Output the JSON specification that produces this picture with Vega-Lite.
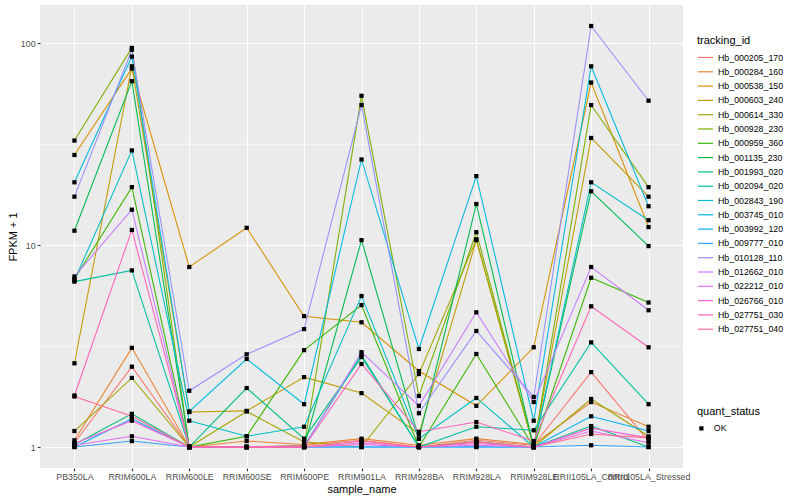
{
"$schema": "https://vega.github.io/schema/vega-lite/v6.json",
"width": 643, "height": 463,
"autosize": {"type": "none"},
"padding": {"left": 40, "top": 5, "right": 117, "bottom": 32},
"background": "white",
"config": {
  "font": "Liberation Sans",
  "view": {"fill": "#EBEBEB", "stroke": null},
  "axis": {"domain": false, "grid": true, "gridColor": "white", "gridWidth": 1.1, "tickColor": "#333333", "tickSize": 2.75, "tickWidth": 1.1, "labelColor": "#4D4D4D", "labelFontSize": 8.8, "labelPadding": 2.2, "titleFontSize": 11, "titleFontWeight": "normal", "titleColor": "black"},
  "legend": {"titleFontSize": 11, "titleFontWeight": "normal", "titleColor": "black", "labelFontSize": 8.8, "labelColor": "black", "padding": 0}
},
"data": {"values": [
{"tracking_id":"Hb_000205_170","sample_name":"PB350LA","FPKM_plus_1":1.05,"quant_status":"OK"},
{"tracking_id":"Hb_000205_170","sample_name":"RRIM600LA","FPKM_plus_1":2.5,"quant_status":"OK"},
{"tracking_id":"Hb_000205_170","sample_name":"RRIM600LE","FPKM_plus_1":1.0,"quant_status":"OK"},
{"tracking_id":"Hb_000205_170","sample_name":"RRIM600SE","FPKM_plus_1":1.0,"quant_status":"OK"},
{"tracking_id":"Hb_000205_170","sample_name":"RRIM600PE","FPKM_plus_1":1.02,"quant_status":"OK"},
{"tracking_id":"Hb_000205_170","sample_name":"RRIM901LA","FPKM_plus_1":1.08,"quant_status":"OK"},
{"tracking_id":"Hb_000205_170","sample_name":"RRIM928BA","FPKM_plus_1":1.0,"quant_status":"OK"},
{"tracking_id":"Hb_000205_170","sample_name":"RRIM928LA","FPKM_plus_1":1.08,"quant_status":"OK"},
{"tracking_id":"Hb_000205_170","sample_name":"RRIM928LE","FPKM_plus_1":1.02,"quant_status":"OK"},
{"tracking_id":"Hb_000205_170","sample_name":"RRII105LA_Control","FPKM_plus_1":2.35,"quant_status":"OK"},
{"tracking_id":"Hb_000205_170","sample_name":"RRII105LA_Stressed","FPKM_plus_1":1.07,"quant_status":"OK"},
{"tracking_id":"Hb_000284_160","sample_name":"PB350LA","FPKM_plus_1":1.08,"quant_status":"OK"},
{"tracking_id":"Hb_000284_160","sample_name":"RRIM600LA","FPKM_plus_1":3.1,"quant_status":"OK"},
{"tracking_id":"Hb_000284_160","sample_name":"RRIM600LE","FPKM_plus_1":1.0,"quant_status":"OK"},
{"tracking_id":"Hb_000284_160","sample_name":"RRIM600SE","FPKM_plus_1":1.07,"quant_status":"OK"},
{"tracking_id":"Hb_000284_160","sample_name":"RRIM600PE","FPKM_plus_1":1.03,"quant_status":"OK"},
{"tracking_id":"Hb_000284_160","sample_name":"RRIM901LA","FPKM_plus_1":1.1,"quant_status":"OK"},
{"tracking_id":"Hb_000284_160","sample_name":"RRIM928BA","FPKM_plus_1":1.02,"quant_status":"OK"},
{"tracking_id":"Hb_000284_160","sample_name":"RRIM928LA","FPKM_plus_1":1.1,"quant_status":"OK"},
{"tracking_id":"Hb_000284_160","sample_name":"RRIM928LE","FPKM_plus_1":1.03,"quant_status":"OK"},
{"tracking_id":"Hb_000284_160","sample_name":"RRII105LA_Control","FPKM_plus_1":1.67,"quant_status":"OK"},
{"tracking_id":"Hb_000284_160","sample_name":"RRII105LA_Stressed","FPKM_plus_1":1.26,"quant_status":"OK"},
{"tracking_id":"Hb_000538_150","sample_name":"PB350LA","FPKM_plus_1":28,"quant_status":"OK"},
{"tracking_id":"Hb_000538_150","sample_name":"RRIM600LA","FPKM_plus_1":75,"quant_status":"OK"},
{"tracking_id":"Hb_000538_150","sample_name":"RRIM600LE","FPKM_plus_1":7.8,"quant_status":"OK"},
{"tracking_id":"Hb_000538_150","sample_name":"RRIM600SE","FPKM_plus_1":12.2,"quant_status":"OK"},
{"tracking_id":"Hb_000538_150","sample_name":"RRIM600PE","FPKM_plus_1":4.45,"quant_status":"OK"},
{"tracking_id":"Hb_000538_150","sample_name":"RRIM901LA","FPKM_plus_1":4.15,"quant_status":"OK"},
{"tracking_id":"Hb_000538_150","sample_name":"RRIM928BA","FPKM_plus_1":2.38,"quant_status":"OK"},
{"tracking_id":"Hb_000538_150","sample_name":"RRIM928LA","FPKM_plus_1":1.6,"quant_status":"OK"},
{"tracking_id":"Hb_000538_150","sample_name":"RRIM928LE","FPKM_plus_1":3.12,"quant_status":"OK"},
{"tracking_id":"Hb_000538_150","sample_name":"RRII105LA_Control","FPKM_plus_1":64,"quant_status":"OK"},
{"tracking_id":"Hb_000538_150","sample_name":"RRII105LA_Stressed","FPKM_plus_1":12.3,"quant_status":"OK"},
{"tracking_id":"Hb_000603_240","sample_name":"PB350LA","FPKM_plus_1":2.6,"quant_status":"OK"},
{"tracking_id":"Hb_000603_240","sample_name":"RRIM600LA","FPKM_plus_1":77,"quant_status":"OK"},
{"tracking_id":"Hb_000603_240","sample_name":"RRIM600LE","FPKM_plus_1":1.49,"quant_status":"OK"},
{"tracking_id":"Hb_000603_240","sample_name":"RRIM600SE","FPKM_plus_1":1.51,"quant_status":"OK"},
{"tracking_id":"Hb_000603_240","sample_name":"RRIM600PE","FPKM_plus_1":2.22,"quant_status":"OK"},
{"tracking_id":"Hb_000603_240","sample_name":"RRIM901LA","FPKM_plus_1":1.85,"quant_status":"OK"},
{"tracking_id":"Hb_000603_240","sample_name":"RRIM928BA","FPKM_plus_1":1.16,"quant_status":"OK"},
{"tracking_id":"Hb_000603_240","sample_name":"RRIM928LA","FPKM_plus_1":10.6,"quant_status":"OK"},
{"tracking_id":"Hb_000603_240","sample_name":"RRIM928LE","FPKM_plus_1":1.0,"quant_status":"OK"},
{"tracking_id":"Hb_000603_240","sample_name":"RRII105LA_Control","FPKM_plus_1":34,"quant_status":"OK"},
{"tracking_id":"Hb_000603_240","sample_name":"RRII105LA_Stressed","FPKM_plus_1":17.4,"quant_status":"OK"},
{"tracking_id":"Hb_000614_330","sample_name":"PB350LA","FPKM_plus_1":1.2,"quant_status":"OK"},
{"tracking_id":"Hb_000614_330","sample_name":"RRIM600LA","FPKM_plus_1":2.2,"quant_status":"OK"},
{"tracking_id":"Hb_000614_330","sample_name":"RRIM600LE","FPKM_plus_1":1.0,"quant_status":"OK"},
{"tracking_id":"Hb_000614_330","sample_name":"RRIM600SE","FPKM_plus_1":1.5,"quant_status":"OK"},
{"tracking_id":"Hb_000614_330","sample_name":"RRIM600PE","FPKM_plus_1":1.06,"quant_status":"OK"},
{"tracking_id":"Hb_000614_330","sample_name":"RRIM901LA","FPKM_plus_1":1.0,"quant_status":"OK"},
{"tracking_id":"Hb_000614_330","sample_name":"RRIM928BA","FPKM_plus_1":2.3,"quant_status":"OK"},
{"tracking_id":"Hb_000614_330","sample_name":"RRIM928LA","FPKM_plus_1":10.7,"quant_status":"OK"},
{"tracking_id":"Hb_000614_330","sample_name":"RRIM928LE","FPKM_plus_1":1.0,"quant_status":"OK"},
{"tracking_id":"Hb_000614_330","sample_name":"RRII105LA_Control","FPKM_plus_1":1.73,"quant_status":"OK"},
{"tracking_id":"Hb_000614_330","sample_name":"RRII105LA_Stressed","FPKM_plus_1":1.13,"quant_status":"OK"},
{"tracking_id":"Hb_000928_230","sample_name":"PB350LA","FPKM_plus_1":33,"quant_status":"OK"},
{"tracking_id":"Hb_000928_230","sample_name":"RRIM600LA","FPKM_plus_1":95,"quant_status":"OK"},
{"tracking_id":"Hb_000928_230","sample_name":"RRIM600LE","FPKM_plus_1":1.0,"quant_status":"OK"},
{"tracking_id":"Hb_000928_230","sample_name":"RRIM600SE","FPKM_plus_1":1.0,"quant_status":"OK"},
{"tracking_id":"Hb_000928_230","sample_name":"RRIM600PE","FPKM_plus_1":1.0,"quant_status":"OK"},
{"tracking_id":"Hb_000928_230","sample_name":"RRIM901LA","FPKM_plus_1":55,"quant_status":"OK"},
{"tracking_id":"Hb_000928_230","sample_name":"RRIM928BA","FPKM_plus_1":1.79,"quant_status":"OK"},
{"tracking_id":"Hb_000928_230","sample_name":"RRIM928LA","FPKM_plus_1":11.6,"quant_status":"OK"},
{"tracking_id":"Hb_000928_230","sample_name":"RRIM928LE","FPKM_plus_1":1.0,"quant_status":"OK"},
{"tracking_id":"Hb_000928_230","sample_name":"RRII105LA_Control","FPKM_plus_1":49.5,"quant_status":"OK"},
{"tracking_id":"Hb_000928_230","sample_name":"RRII105LA_Stressed","FPKM_plus_1":19.4,"quant_status":"OK"},
{"tracking_id":"Hb_000959_360","sample_name":"PB350LA","FPKM_plus_1":6.8,"quant_status":"OK"},
{"tracking_id":"Hb_000959_360","sample_name":"RRIM600LA","FPKM_plus_1":19.4,"quant_status":"OK"},
{"tracking_id":"Hb_000959_360","sample_name":"RRIM600LE","FPKM_plus_1":1.0,"quant_status":"OK"},
{"tracking_id":"Hb_000959_360","sample_name":"RRIM600SE","FPKM_plus_1":1.13,"quant_status":"OK"},
{"tracking_id":"Hb_000959_360","sample_name":"RRIM600PE","FPKM_plus_1":3.02,"quant_status":"OK"},
{"tracking_id":"Hb_000959_360","sample_name":"RRIM901LA","FPKM_plus_1":5.05,"quant_status":"OK"},
{"tracking_id":"Hb_000959_360","sample_name":"RRIM928BA","FPKM_plus_1":1.0,"quant_status":"OK"},
{"tracking_id":"Hb_000959_360","sample_name":"RRIM928LA","FPKM_plus_1":2.89,"quant_status":"OK"},
{"tracking_id":"Hb_000959_360","sample_name":"RRIM928LE","FPKM_plus_1":1.0,"quant_status":"OK"},
{"tracking_id":"Hb_000959_360","sample_name":"RRII105LA_Control","FPKM_plus_1":6.9,"quant_status":"OK"},
{"tracking_id":"Hb_000959_360","sample_name":"RRII105LA_Stressed","FPKM_plus_1":5.2,"quant_status":"OK"},
{"tracking_id":"Hb_001135_230","sample_name":"PB350LA","FPKM_plus_1":11.8,"quant_status":"OK"},
{"tracking_id":"Hb_001135_230","sample_name":"RRIM600LA","FPKM_plus_1":65,"quant_status":"OK"},
{"tracking_id":"Hb_001135_230","sample_name":"RRIM600LE","FPKM_plus_1":1.0,"quant_status":"OK"},
{"tracking_id":"Hb_001135_230","sample_name":"RRIM600SE","FPKM_plus_1":1.0,"quant_status":"OK"},
{"tracking_id":"Hb_001135_230","sample_name":"RRIM600PE","FPKM_plus_1":1.0,"quant_status":"OK"},
{"tracking_id":"Hb_001135_230","sample_name":"RRIM901LA","FPKM_plus_1":10.6,"quant_status":"OK"},
{"tracking_id":"Hb_001135_230","sample_name":"RRIM928BA","FPKM_plus_1":1.1,"quant_status":"OK"},
{"tracking_id":"Hb_001135_230","sample_name":"RRIM928LA","FPKM_plus_1":16,"quant_status":"OK"},
{"tracking_id":"Hb_001135_230","sample_name":"RRIM928LE","FPKM_plus_1":1.0,"quant_status":"OK"},
{"tracking_id":"Hb_001135_230","sample_name":"RRII105LA_Control","FPKM_plus_1":18.5,"quant_status":"OK"},
{"tracking_id":"Hb_001135_230","sample_name":"RRII105LA_Stressed","FPKM_plus_1":9.9,"quant_status":"OK"},
{"tracking_id":"Hb_001993_020","sample_name":"PB350LA","FPKM_plus_1":1.03,"quant_status":"OK"},
{"tracking_id":"Hb_001993_020","sample_name":"RRIM600LA","FPKM_plus_1":1.46,"quant_status":"OK"},
{"tracking_id":"Hb_001993_020","sample_name":"RRIM600LE","FPKM_plus_1":1.0,"quant_status":"OK"},
{"tracking_id":"Hb_001993_020","sample_name":"RRIM600SE","FPKM_plus_1":1.96,"quant_status":"OK"},
{"tracking_id":"Hb_001993_020","sample_name":"RRIM600PE","FPKM_plus_1":1.1,"quant_status":"OK"},
{"tracking_id":"Hb_001993_020","sample_name":"RRIM901LA","FPKM_plus_1":2.79,"quant_status":"OK"},
{"tracking_id":"Hb_001993_020","sample_name":"RRIM928BA","FPKM_plus_1":1.0,"quant_status":"OK"},
{"tracking_id":"Hb_001993_020","sample_name":"RRIM928LA","FPKM_plus_1":1.06,"quant_status":"OK"},
{"tracking_id":"Hb_001993_020","sample_name":"RRIM928LE","FPKM_plus_1":1.0,"quant_status":"OK"},
{"tracking_id":"Hb_001993_020","sample_name":"RRII105LA_Control","FPKM_plus_1":1.27,"quant_status":"OK"},
{"tracking_id":"Hb_001993_020","sample_name":"RRII105LA_Stressed","FPKM_plus_1":1.0,"quant_status":"OK"},
{"tracking_id":"Hb_002094_020","sample_name":"PB350LA","FPKM_plus_1":6.6,"quant_status":"OK"},
{"tracking_id":"Hb_002094_020","sample_name":"RRIM600LA","FPKM_plus_1":7.5,"quant_status":"OK"},
{"tracking_id":"Hb_002094_020","sample_name":"RRIM600LE","FPKM_plus_1":1.0,"quant_status":"OK"},
{"tracking_id":"Hb_002094_020","sample_name":"RRIM600SE","FPKM_plus_1":1.0,"quant_status":"OK"},
{"tracking_id":"Hb_002094_020","sample_name":"RRIM600PE","FPKM_plus_1":1.01,"quant_status":"OK"},
{"tracking_id":"Hb_002094_020","sample_name":"RRIM901LA","FPKM_plus_1":2.86,"quant_status":"OK"},
{"tracking_id":"Hb_002094_020","sample_name":"RRIM928BA","FPKM_plus_1":1.0,"quant_status":"OK"},
{"tracking_id":"Hb_002094_020","sample_name":"RRIM928LA","FPKM_plus_1":1.26,"quant_status":"OK"},
{"tracking_id":"Hb_002094_020","sample_name":"RRIM928LE","FPKM_plus_1":1.21,"quant_status":"OK"},
{"tracking_id":"Hb_002094_020","sample_name":"RRII105LA_Control","FPKM_plus_1":3.3,"quant_status":"OK"},
{"tracking_id":"Hb_002094_020","sample_name":"RRII105LA_Stressed","FPKM_plus_1":1.63,"quant_status":"OK"},
{"tracking_id":"Hb_002843_190","sample_name":"PB350LA","FPKM_plus_1":6.7,"quant_status":"OK"},
{"tracking_id":"Hb_002843_190","sample_name":"RRIM600LA","FPKM_plus_1":29.5,"quant_status":"OK"},
{"tracking_id":"Hb_002843_190","sample_name":"RRIM600LE","FPKM_plus_1":1.35,"quant_status":"OK"},
{"tracking_id":"Hb_002843_190","sample_name":"RRIM600SE","FPKM_plus_1":1.13,"quant_status":"OK"},
{"tracking_id":"Hb_002843_190","sample_name":"RRIM600PE","FPKM_plus_1":1.26,"quant_status":"OK"},
{"tracking_id":"Hb_002843_190","sample_name":"RRIM901LA","FPKM_plus_1":5.6,"quant_status":"OK"},
{"tracking_id":"Hb_002843_190","sample_name":"RRIM928BA","FPKM_plus_1":1.1,"quant_status":"OK"},
{"tracking_id":"Hb_002843_190","sample_name":"RRIM928LA","FPKM_plus_1":1.75,"quant_status":"OK"},
{"tracking_id":"Hb_002843_190","sample_name":"RRIM928LE","FPKM_plus_1":1.0,"quant_status":"OK"},
{"tracking_id":"Hb_002843_190","sample_name":"RRII105LA_Control","FPKM_plus_1":20.5,"quant_status":"OK"},
{"tracking_id":"Hb_002843_190","sample_name":"RRII105LA_Stressed","FPKM_plus_1":13.3,"quant_status":"OK"},
{"tracking_id":"Hb_003745_010","sample_name":"PB350LA","FPKM_plus_1":20.5,"quant_status":"OK"},
{"tracking_id":"Hb_003745_010","sample_name":"RRIM600LA","FPKM_plus_1":86,"quant_status":"OK"},
{"tracking_id":"Hb_003745_010","sample_name":"RRIM600LE","FPKM_plus_1":1.5,"quant_status":"OK"},
{"tracking_id":"Hb_003745_010","sample_name":"RRIM600SE","FPKM_plus_1":2.73,"quant_status":"OK"},
{"tracking_id":"Hb_003745_010","sample_name":"RRIM600PE","FPKM_plus_1":1.63,"quant_status":"OK"},
{"tracking_id":"Hb_003745_010","sample_name":"RRIM901LA","FPKM_plus_1":26.6,"quant_status":"OK"},
{"tracking_id":"Hb_003745_010","sample_name":"RRIM928BA","FPKM_plus_1":3.06,"quant_status":"OK"},
{"tracking_id":"Hb_003745_010","sample_name":"RRIM928LA","FPKM_plus_1":22,"quant_status":"OK"},
{"tracking_id":"Hb_003745_010","sample_name":"RRIM928LE","FPKM_plus_1":1.35,"quant_status":"OK"},
{"tracking_id":"Hb_003745_010","sample_name":"RRII105LA_Control","FPKM_plus_1":77,"quant_status":"OK"},
{"tracking_id":"Hb_003745_010","sample_name":"RRII105LA_Stressed","FPKM_plus_1":15.6,"quant_status":"OK"},
{"tracking_id":"Hb_003992_120","sample_name":"PB350LA","FPKM_plus_1":1.0,"quant_status":"OK"},
{"tracking_id":"Hb_003992_120","sample_name":"RRIM600LA","FPKM_plus_1":1.38,"quant_status":"OK"},
{"tracking_id":"Hb_003992_120","sample_name":"RRIM600LE","FPKM_plus_1":1.0,"quant_status":"OK"},
{"tracking_id":"Hb_003992_120","sample_name":"RRIM600SE","FPKM_plus_1":1.0,"quant_status":"OK"},
{"tracking_id":"Hb_003992_120","sample_name":"RRIM600PE","FPKM_plus_1":1.0,"quant_status":"OK"},
{"tracking_id":"Hb_003992_120","sample_name":"RRIM901LA","FPKM_plus_1":1.0,"quant_status":"OK"},
{"tracking_id":"Hb_003992_120","sample_name":"RRIM928BA","FPKM_plus_1":1.0,"quant_status":"OK"},
{"tracking_id":"Hb_003992_120","sample_name":"RRIM928LA","FPKM_plus_1":1.0,"quant_status":"OK"},
{"tracking_id":"Hb_003992_120","sample_name":"RRIM928LE","FPKM_plus_1":1.0,"quant_status":"OK"},
{"tracking_id":"Hb_003992_120","sample_name":"RRII105LA_Control","FPKM_plus_1":1.42,"quant_status":"OK"},
{"tracking_id":"Hb_003992_120","sample_name":"RRII105LA_Stressed","FPKM_plus_1":1.2,"quant_status":"OK"},
{"tracking_id":"Hb_009777_010","sample_name":"PB350LA","FPKM_plus_1":1.0,"quant_status":"OK"},
{"tracking_id":"Hb_009777_010","sample_name":"RRIM600LA","FPKM_plus_1":1.07,"quant_status":"OK"},
{"tracking_id":"Hb_009777_010","sample_name":"RRIM600LE","FPKM_plus_1":1.0,"quant_status":"OK"},
{"tracking_id":"Hb_009777_010","sample_name":"RRIM600SE","FPKM_plus_1":1.0,"quant_status":"OK"},
{"tracking_id":"Hb_009777_010","sample_name":"RRIM600PE","FPKM_plus_1":1.0,"quant_status":"OK"},
{"tracking_id":"Hb_009777_010","sample_name":"RRIM901LA","FPKM_plus_1":1.0,"quant_status":"OK"},
{"tracking_id":"Hb_009777_010","sample_name":"RRIM928BA","FPKM_plus_1":1.0,"quant_status":"OK"},
{"tracking_id":"Hb_009777_010","sample_name":"RRIM928LA","FPKM_plus_1":1.0,"quant_status":"OK"},
{"tracking_id":"Hb_009777_010","sample_name":"RRIM928LE","FPKM_plus_1":1.0,"quant_status":"OK"},
{"tracking_id":"Hb_009777_010","sample_name":"RRII105LA_Control","FPKM_plus_1":1.02,"quant_status":"OK"},
{"tracking_id":"Hb_009777_010","sample_name":"RRII105LA_Stressed","FPKM_plus_1":1.0,"quant_status":"OK"},
{"tracking_id":"Hb_010128_110","sample_name":"PB350LA","FPKM_plus_1":17.4,"quant_status":"OK"},
{"tracking_id":"Hb_010128_110","sample_name":"RRIM600LA","FPKM_plus_1":93,"quant_status":"OK"},
{"tracking_id":"Hb_010128_110","sample_name":"RRIM600LE","FPKM_plus_1":1.9,"quant_status":"OK"},
{"tracking_id":"Hb_010128_110","sample_name":"RRIM600SE","FPKM_plus_1":2.88,"quant_status":"OK"},
{"tracking_id":"Hb_010128_110","sample_name":"RRIM600PE","FPKM_plus_1":3.84,"quant_status":"OK"},
{"tracking_id":"Hb_010128_110","sample_name":"RRIM901LA","FPKM_plus_1":49.5,"quant_status":"OK"},
{"tracking_id":"Hb_010128_110","sample_name":"RRIM928BA","FPKM_plus_1":1.47,"quant_status":"OK"},
{"tracking_id":"Hb_010128_110","sample_name":"RRIM928LA","FPKM_plus_1":3.76,"quant_status":"OK"},
{"tracking_id":"Hb_010128_110","sample_name":"RRIM928LE","FPKM_plus_1":1.77,"quant_status":"OK"},
{"tracking_id":"Hb_010128_110","sample_name":"RRII105LA_Control","FPKM_plus_1":122,"quant_status":"OK"},
{"tracking_id":"Hb_010128_110","sample_name":"RRII105LA_Stressed","FPKM_plus_1":52,"quant_status":"OK"},
{"tracking_id":"Hb_012662_010","sample_name":"PB350LA","FPKM_plus_1":7.0,"quant_status":"OK"},
{"tracking_id":"Hb_012662_010","sample_name":"RRIM600LA","FPKM_plus_1":15,"quant_status":"OK"},
{"tracking_id":"Hb_012662_010","sample_name":"RRIM600LE","FPKM_plus_1":1.0,"quant_status":"OK"},
{"tracking_id":"Hb_012662_010","sample_name":"RRIM600SE","FPKM_plus_1":1.0,"quant_status":"OK"},
{"tracking_id":"Hb_012662_010","sample_name":"RRIM600PE","FPKM_plus_1":1.0,"quant_status":"OK"},
{"tracking_id":"Hb_012662_010","sample_name":"RRIM901LA","FPKM_plus_1":2.95,"quant_status":"OK"},
{"tracking_id":"Hb_012662_010","sample_name":"RRIM928BA","FPKM_plus_1":1.6,"quant_status":"OK"},
{"tracking_id":"Hb_012662_010","sample_name":"RRIM928LA","FPKM_plus_1":4.65,"quant_status":"OK"},
{"tracking_id":"Hb_012662_010","sample_name":"RRIM928LE","FPKM_plus_1":1.67,"quant_status":"OK"},
{"tracking_id":"Hb_012662_010","sample_name":"RRII105LA_Control","FPKM_plus_1":7.8,"quant_status":"OK"},
{"tracking_id":"Hb_012662_010","sample_name":"RRII105LA_Stressed","FPKM_plus_1":4.76,"quant_status":"OK"},
{"tracking_id":"Hb_022212_010","sample_name":"PB350LA","FPKM_plus_1":1.02,"quant_status":"OK"},
{"tracking_id":"Hb_022212_010","sample_name":"RRIM600LA","FPKM_plus_1":1.13,"quant_status":"OK"},
{"tracking_id":"Hb_022212_010","sample_name":"RRIM600LE","FPKM_plus_1":1.0,"quant_status":"OK"},
{"tracking_id":"Hb_022212_010","sample_name":"RRIM600SE","FPKM_plus_1":1.0,"quant_status":"OK"},
{"tracking_id":"Hb_022212_010","sample_name":"RRIM600PE","FPKM_plus_1":1.0,"quant_status":"OK"},
{"tracking_id":"Hb_022212_010","sample_name":"RRIM901LA","FPKM_plus_1":1.05,"quant_status":"OK"},
{"tracking_id":"Hb_022212_010","sample_name":"RRIM928BA","FPKM_plus_1":1.0,"quant_status":"OK"},
{"tracking_id":"Hb_022212_010","sample_name":"RRIM928LA","FPKM_plus_1":1.02,"quant_status":"OK"},
{"tracking_id":"Hb_022212_010","sample_name":"RRIM928LE","FPKM_plus_1":1.0,"quant_status":"OK"},
{"tracking_id":"Hb_022212_010","sample_name":"RRII105LA_Control","FPKM_plus_1":1.2,"quant_status":"OK"},
{"tracking_id":"Hb_022212_010","sample_name":"RRII105LA_Stressed","FPKM_plus_1":1.05,"quant_status":"OK"},
{"tracking_id":"Hb_026766_010","sample_name":"PB350LA","FPKM_plus_1":1.04,"quant_status":"OK"},
{"tracking_id":"Hb_026766_010","sample_name":"RRIM600LA","FPKM_plus_1":1.35,"quant_status":"OK"},
{"tracking_id":"Hb_026766_010","sample_name":"RRIM600LE","FPKM_plus_1":1.0,"quant_status":"OK"},
{"tracking_id":"Hb_026766_010","sample_name":"RRIM600SE","FPKM_plus_1":1.0,"quant_status":"OK"},
{"tracking_id":"Hb_026766_010","sample_name":"RRIM600PE","FPKM_plus_1":1.0,"quant_status":"OK"},
{"tracking_id":"Hb_026766_010","sample_name":"RRIM901LA","FPKM_plus_1":1.03,"quant_status":"OK"},
{"tracking_id":"Hb_026766_010","sample_name":"RRIM928BA","FPKM_plus_1":1.0,"quant_status":"OK"},
{"tracking_id":"Hb_026766_010","sample_name":"RRIM928LA","FPKM_plus_1":1.04,"quant_status":"OK"},
{"tracking_id":"Hb_026766_010","sample_name":"RRIM928LE","FPKM_plus_1":1.0,"quant_status":"OK"},
{"tracking_id":"Hb_026766_010","sample_name":"RRII105LA_Control","FPKM_plus_1":1.24,"quant_status":"OK"},
{"tracking_id":"Hb_026766_010","sample_name":"RRII105LA_Stressed","FPKM_plus_1":1.11,"quant_status":"OK"},
{"tracking_id":"Hb_027751_030","sample_name":"PB350LA","FPKM_plus_1":1.8,"quant_status":"OK"},
{"tracking_id":"Hb_027751_030","sample_name":"RRIM600LA","FPKM_plus_1":11.9,"quant_status":"OK"},
{"tracking_id":"Hb_027751_030","sample_name":"RRIM600LE","FPKM_plus_1":1.0,"quant_status":"OK"},
{"tracking_id":"Hb_027751_030","sample_name":"RRIM600SE","FPKM_plus_1":1.0,"quant_status":"OK"},
{"tracking_id":"Hb_027751_030","sample_name":"RRIM600PE","FPKM_plus_1":1.0,"quant_status":"OK"},
{"tracking_id":"Hb_027751_030","sample_name":"RRIM901LA","FPKM_plus_1":2.58,"quant_status":"OK"},
{"tracking_id":"Hb_027751_030","sample_name":"RRIM928BA","FPKM_plus_1":1.19,"quant_status":"OK"},
{"tracking_id":"Hb_027751_030","sample_name":"RRIM928LA","FPKM_plus_1":1.33,"quant_status":"OK"},
{"tracking_id":"Hb_027751_030","sample_name":"RRIM928LE","FPKM_plus_1":1.07,"quant_status":"OK"},
{"tracking_id":"Hb_027751_030","sample_name":"RRII105LA_Control","FPKM_plus_1":4.98,"quant_status":"OK"},
{"tracking_id":"Hb_027751_030","sample_name":"RRII105LA_Stressed","FPKM_plus_1":3.12,"quant_status":"OK"},
{"tracking_id":"Hb_027751_040","sample_name":"PB350LA","FPKM_plus_1":1.78,"quant_status":"OK"},
{"tracking_id":"Hb_027751_040","sample_name":"RRIM600LA","FPKM_plus_1":1.42,"quant_status":"OK"},
{"tracking_id":"Hb_027751_040","sample_name":"RRIM600LE","FPKM_plus_1":1.0,"quant_status":"OK"},
{"tracking_id":"Hb_027751_040","sample_name":"RRIM600SE","FPKM_plus_1":1.0,"quant_status":"OK"},
{"tracking_id":"Hb_027751_040","sample_name":"RRIM600PE","FPKM_plus_1":1.0,"quant_status":"OK"},
{"tracking_id":"Hb_027751_040","sample_name":"RRIM901LA","FPKM_plus_1":1.07,"quant_status":"OK"},
{"tracking_id":"Hb_027751_040","sample_name":"RRIM928BA","FPKM_plus_1":1.0,"quant_status":"OK"},
{"tracking_id":"Hb_027751_040","sample_name":"RRIM928LA","FPKM_plus_1":1.06,"quant_status":"OK"},
{"tracking_id":"Hb_027751_040","sample_name":"RRIM928LE","FPKM_plus_1":1.0,"quant_status":"OK"},
{"tracking_id":"Hb_027751_040","sample_name":"RRII105LA_Control","FPKM_plus_1":1.16,"quant_status":"OK"},
{"tracking_id":"Hb_027751_040","sample_name":"RRII105LA_Stressed","FPKM_plus_1":1.11,"quant_status":"OK"}
]},
"layer": [
  {
    "data": {"values": [{"minor_break": 3.1623}, {"minor_break": 31.623}]},
    "mark": {"type": "rule", "color": "white", "strokeWidth": 0.55},
    "encoding": {
      "y": {"field": "minor_break", "type": "quantitative", "scale": {"type": "log", "domain": [0.787, 155], "nice": false}, "axis": {"title": "FPKM + 1", "values": [1, 10, 100], "format": "d", "titlePadding": 2}}
    }
  },
  {
    "mark": {"type": "line", "strokeWidth": 1.07},
    "encoding": {
      "x": {"field": "sample_name", "type": "nominal", "sort": ["PB350LA","RRIM600LA","RRIM600LE","RRIM600SE","RRIM600PE","RRIM901LA","RRIM928BA","RRIM928LA","RRIM928LE","RRII105LA_Control","RRII105LA_Stressed"], "scale": {"type": "point", "padding": 0.6}, "axis": {"title": "sample_name", "labelAngle": 0, "labelOverlap": false, "labelBound": false, "labelLimit": 0, "titlePadding": 2}},
      "y": {"field": "FPKM_plus_1", "type": "quantitative", "scale": {"type": "log", "domain": [0.787, 155], "nice": false}, "axis": {"title": "FPKM + 1", "values": [1, 10, 100], "format": "d", "titlePadding": 2}},
      "color": {"field": "tracking_id", "type": "nominal",
        "scale": {"domain": ["Hb_000205_170","Hb_000284_160","Hb_000538_150","Hb_000603_240","Hb_000614_330","Hb_000928_230","Hb_000959_360","Hb_001135_230","Hb_001993_020","Hb_002094_020","Hb_002843_190","Hb_003745_010","Hb_003992_120","Hb_009777_010","Hb_010128_110","Hb_012662_010","Hb_022212_010","Hb_026766_010","Hb_027751_030","Hb_027751_040"],
                  "range": ["#F8766D","#EA8331","#D89000","#C09B00","#A3A500","#7CAE00","#39B600","#00BB4E","#00BF7D","#00C1A3","#00BFC4","#00BAE0","#00B0F6","#35A2FF","#9590FF","#C77CFF","#E76BF3","#FA62DB","#FF62BC","#FF6C91"]},
        "legend": {"orient": "none", "legendX": 657, "legendY": 30, "symbolType": "stroke", "symbolSize": 225, "symbolStrokeWidth": 1.2, "rowPadding": 0.3, "titlePadding": 3, "labelOffset": 4}}
    }
  },
  {
    "mark": {"type": "point", "shape": "square", "filled": true, "color": "black", "size": 18, "opacity": 1},
    "encoding": {
      "x": {"field": "sample_name", "type": "nominal", "sort": ["PB350LA","RRIM600LA","RRIM600LE","RRIM600SE","RRIM600PE","RRIM901LA","RRIM928BA","RRIM928LA","RRIM928LE","RRII105LA_Control","RRII105LA_Stressed"]},
      "y": {"field": "FPKM_plus_1", "type": "quantitative"},
      "shape": {"field": "quant_status", "type": "nominal", "scale": {"range": ["square"]},
        "legend": {"orient": "none", "legendX": 657, "legendY": 401, "symbolFillColor": "black", "symbolStrokeColor": "black", "symbolSize": 18, "titlePadding": 7, "labelOffset": 8}}
    }
  }
]
}
